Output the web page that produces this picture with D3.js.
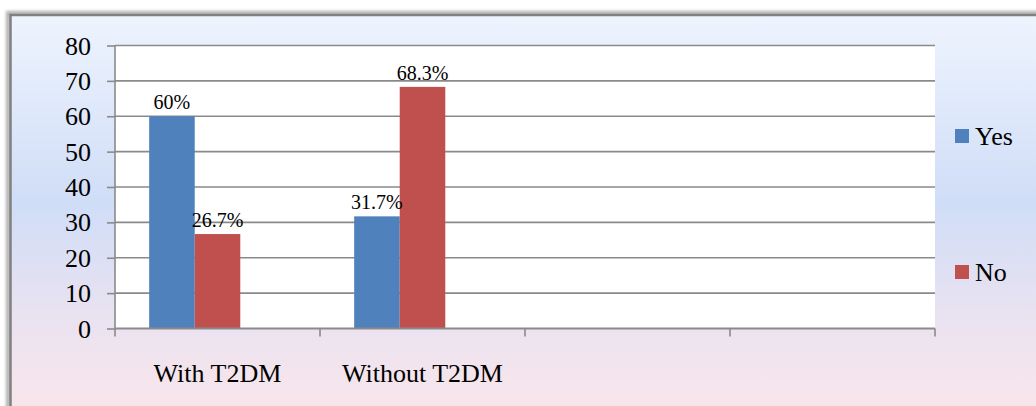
<!DOCTYPE html>
<html>
<head>
<meta charset="utf-8">
<script src="https://cdn.jsdelivr.net/npm/d3@7"></script>
<style>
  html, body { margin: 0; padding: 0; background: #ffffff; }
  svg { display: block; }
</style>
</head>
<body>
<svg id="chart" width="1036" height="406"></svg>
<script>
// Chart data
const categories = ["With T2DM", "Without T2DM", "", ""];
const seriesNames = ["Yes", "No"];
const yesValues = [60, 31.7];
const noValues = [26.7, 68.3];
const yesLabels = ["60%", "31.7%"];
const noLabels = ["26.7%", "68.3%"];
const yTicks = [0, 10, 20, 30, 40, 50, 60, 70, 80];

const colors = { Yes: "#4f81bd", No: "#c0504d" };
const valuesBySeries = { Yes: yesValues, No: noValues };
const labelsBySeries = { Yes: yesLabels, No: noLabels };
const SERIF = "'Liberation Serif', 'Times New Roman', serif";

const svg = d3.select("#chart");

// Background gradient and soft frame shadow
const defs = svg.append("defs");
const grad = defs.append("linearGradient")
  .attr("id", "bgGrad").attr("x1", 0).attr("y1", 0).attr("x2", 0).attr("y2", 1);
grad.append("stop").attr("offset", "0%").attr("stop-color", "#eef4fe");
grad.append("stop").attr("offset", "45%").attr("stop-color", "#d0ddf7");
grad.append("stop").attr("offset", "75%").attr("stop-color", "#ece3f0");
grad.append("stop").attr("offset", "100%").attr("stop-color", "#fde6e8");

const blur = defs.append("filter").attr("id", "shadow")
  .attr("x", "-5%").attr("y", "-5%").attr("width", "110%").attr("height", "110%");
blur.append("feGaussianBlur").attr("stdDeviation", 1.6);

// Chart frame
svg.append("rect")
  .attr("x", 8).attr("y", 13).attr("width", 1060).attr("height", 420)
  .attr("fill", "none").attr("stroke", "#b0b0b0").attr("stroke-width", 4)
  .attr("filter", "url(#shadow)");
svg.append("rect")
  .attr("x", 10.5).attr("y", 15).attr("width", 1060).attr("height", 420)
  .attr("fill", "url(#bgGrad)").attr("stroke", "#808080").attr("stroke-width", 2.5);

// Plot geometry
const plot = { left: 115, right: 935, top: 45.5, bottom: 328.5 };

const y = d3.scaleLinear().domain([0, 80]).range([plot.bottom, plot.top]);
const x0 = d3.scaleBand().domain(d3.range(categories.length))
  .range([plot.left, plot.right]).padding(0);
// Each category holds three series slots; the third slot is empty.
const x1 = d3.scaleBand().domain([...seriesNames, "_empty"])
  .range([0, x0.bandwidth()]).paddingInner(0).paddingOuter(0.75);

// Plot area
svg.append("rect")
  .attr("x", plot.left).attr("y", plot.top)
  .attr("width", plot.right - plot.left).attr("height", plot.bottom - plot.top)
  .attr("fill", "#ffffff");

// Horizontal gridlines
svg.append("g").selectAll("line")
  .data(yTicks.filter(d => d > 0))
  .join("line")
  .attr("x1", plot.left).attr("x2", plot.right)
  .attr("y1", d => y(d)).attr("y2", d => y(d))
  .attr("stroke", "#8a8a8a").attr("stroke-width", 1.6);

// Bars
const groups = svg.append("g").selectAll("g")
  .data(categories.map((c, i) => i).filter(i => yesValues[i] !== undefined))
  .join("g")
  .attr("transform", i => `translate(${x0(i)},0)`);

const barData = i => seriesNames.map(s => ({ s, v: valuesBySeries[s][i], label: labelsBySeries[s][i] }));

groups.selectAll("rect")
  .data(barData)
  .join("rect")
  .attr("x", d => x1(d.s))
  .attr("width", x1.bandwidth())
  .attr("y", d => y(d.v))
  .attr("height", d => y(0) - y(d.v))
  .attr("fill", d => colors[d.s]);

// Value labels
groups.selectAll("text")
  .data(barData)
  .join("text")
  .attr("x", d => x1(d.s) + x1.bandwidth() / 2)
  .attr("y", d => y(d.v) - 7)
  .attr("text-anchor", "middle")
  .style("font-family", SERIF)
  .style("font-size", "20px")
  .style("fill", "#000")
  .text(d => d.label);

// Y axis
const yAxis = d3.axisLeft(y).tickValues(yTicks).tickSize(8).tickPadding(16);
const gy = svg.append("g").attr("transform", `translate(${plot.left},0)`).call(yAxis);
gy.attr("font-family", SERIF).attr("font-size", 26);
gy.select(".domain").remove();
gy.selectAll(".tick line").attr("stroke", "#8a8a8a").attr("stroke-width", 1.6);
gy.selectAll(".tick text")
  .style("font-family", SERIF)
  .style("font-size", "26px")
  .style("fill", "#000")
  .attr("dy", "0.33em");
gy.append("line")
  .attr("x1", 0).attr("x2", 0).attr("y1", plot.top).attr("y2", plot.bottom)
  .attr("stroke", "#8a8a8a").attr("stroke-width", 1.6);

// X axis: boundary ticks between categories
const boundaries = d3.range(categories.length + 1).map(i =>
  i < categories.length ? x0(i) : x0(categories.length - 1) + x0.bandwidth());
const gx = svg.append("g");
gx.append("line")
  .attr("x1", plot.left).attr("x2", plot.right)
  .attr("y1", plot.bottom).attr("y2", plot.bottom)
  .attr("stroke", "#8a8a8a").attr("stroke-width", 1.8);
gx.selectAll("line.tick")
  .data(boundaries)
  .join("line").attr("class", "tick")
  .attr("x1", d => d).attr("x2", d => d)
  .attr("y1", plot.bottom).attr("y2", plot.bottom + 8)
  .attr("stroke", "#8a8a8a").attr("stroke-width", 1.6);
gx.selectAll("text")
  .data(categories)
  .join("text")
  .attr("x", (d, i) => x0(i) + x0.bandwidth() / 2)
  .attr("y", 382)
  .attr("text-anchor", "middle")
  .style("font-family", SERIF)
  .style("font-size", "26px")
  .style("fill", "#000")
  .text(d => d);

// Legend
const legend = svg.append("g");
const legendY = { Yes: 129, No: 265 };
seriesNames.forEach(s => {
  legend.append("rect")
    .attr("x", 955).attr("y", legendY[s])
    .attr("width", 14).attr("height", 14)
    .attr("fill", colors[s]);
  legend.append("text")
    .attr("x", 975).attr("y", legendY[s] + 16)
    .style("font-family", SERIF)
    .style("font-size", "26px")
    .style("fill", "#000")
    .text(s);
});
</script>
</body>
</html>
